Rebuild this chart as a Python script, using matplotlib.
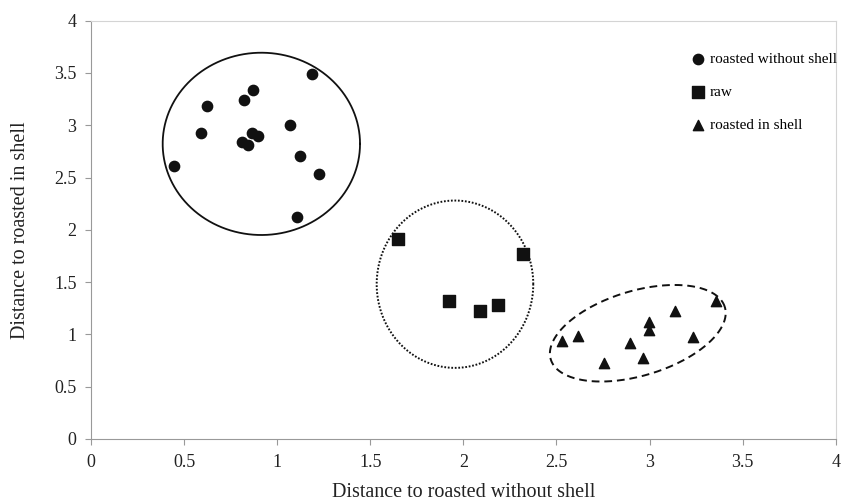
import numpy as np
import matplotlib
matplotlib.use("Agg")
import matplotlib.pyplot as plt

plt.rcParams['font.family'] = ['Liberation Serif', 'DejaVu Serif']

# Data
rws_x = [1.188, 0.872, 0.820, 0.621, 0.591, 0.865, 0.895, 0.809, 0.842, 1.069, 1.124, 1.226, 0.446, 1.105]
rws_y = [3.487, 3.337, 3.244, 3.181, 2.923, 2.928, 2.897, 2.842, 2.811, 3.005, 2.703, 2.531, 2.613, 2.120]
raw_x = [1.650, 2.322, 1.924, 2.091, 2.187]
raw_y = [1.909, 1.766, 1.316, 1.221, 1.278]
ris_x = [2.531, 2.615, 2.755, 2.895, 2.964, 2.995, 2.997, 3.135, 3.231, 3.355]
ris_y = [0.937, 0.985, 0.729, 0.915, 0.774, 1.121, 1.042, 1.224, 0.972, 1.322]
labels = ['roasted without shell', 'raw', 'roasted in shell']
xticks = [0, 0.5, 1, 1.5, 2, 2.5, 3, 3.5, 4]
yticks = [0, 0.5, 1, 1.5, 2, 2.5, 3, 3.5, 4]

fig = plt.figure(figsize=(8.41, 5.04), dpi=100)
ax = fig.add_axes([0.1082, 0.129, 0.8855, 0.830])

ax.scatter(rws_x, rws_y, marker='o', s=55, color='#111111', label=labels[0], zorder=3)
ax.scatter(raw_x, raw_y, marker='s', s=70, color='#111111', label=labels[1], zorder=3)
ax.scatter(ris_x, ris_y, marker='^', s=55, color='#111111', label=labels[2], zorder=3)

t = np.linspace(0, 2 * np.pi, 400)
# solid ellipse around roasted without shell
ax.plot(0.915 + 0.53 * np.cos(t), 2.822 + 0.8715 * np.sin(t), color='#111111', lw=1.3)
# dotted ellipse around raw
ax.plot(1.955 + 0.4205 * np.cos(t), 1.48 + 0.80 * np.sin(t), color='#111111', lw=1.4, linestyle=(0, (0.9, 0.9)))
# dashed tilted ellipse around roasted in shell (params in pixel-like units)
sx, sy = 186.2, 104.6
a, b, phi = 90.9, 42.4, np.deg2rad(16.7)
ex = 2.937 + (a * np.cos(t) * np.cos(phi) - b * np.sin(t) * np.sin(phi)) / sx
ey = 1.011 + (a * np.cos(t) * np.sin(phi) + b * np.sin(t) * np.cos(phi)) / sy
ax.plot(ex, ey, color='#111111', lw=1.4, linestyle=(0, (4, 2.5)))

ax.set_xlim(0, 4)
ax.set_ylim(0, 4)
ax.set_xticks(xticks)
ax.set_yticks(yticks)
ax.set_xticklabels([f'{v:g}' for v in xticks])
ax.set_yticklabels([f'{v:g}' for v in yticks])
ax.tick_params(direction='out', length=4.5, color='#999999', labelsize=13, labelcolor='#222222')
ax.tick_params(axis='y', pad=6)
ax.tick_params(axis='x', pad=6)

for side in ['left', 'bottom']:
    ax.spines[side].set_color('#999999')
for side in ['top', 'right']:
    ax.spines[side].set_color('#d4d4d4')

ax.set_xlabel('Distance to roasted without shell', fontsize=14.5, color='#222222', labelpad=9)
ax.set_ylabel('Distance to roasted in shell', fontsize=14.5, color='#222222', labelpad=17)

leg = ax.legend(loc='upper left', bbox_to_anchor=(0.795, 0.938), frameon=False, fontsize=11,
                labelspacing=1.25, handlelength=1.2, handletextpad=0.15, borderaxespad=0,
                markerscale=1.0)

fig.savefig('out.png', dpi=100)
